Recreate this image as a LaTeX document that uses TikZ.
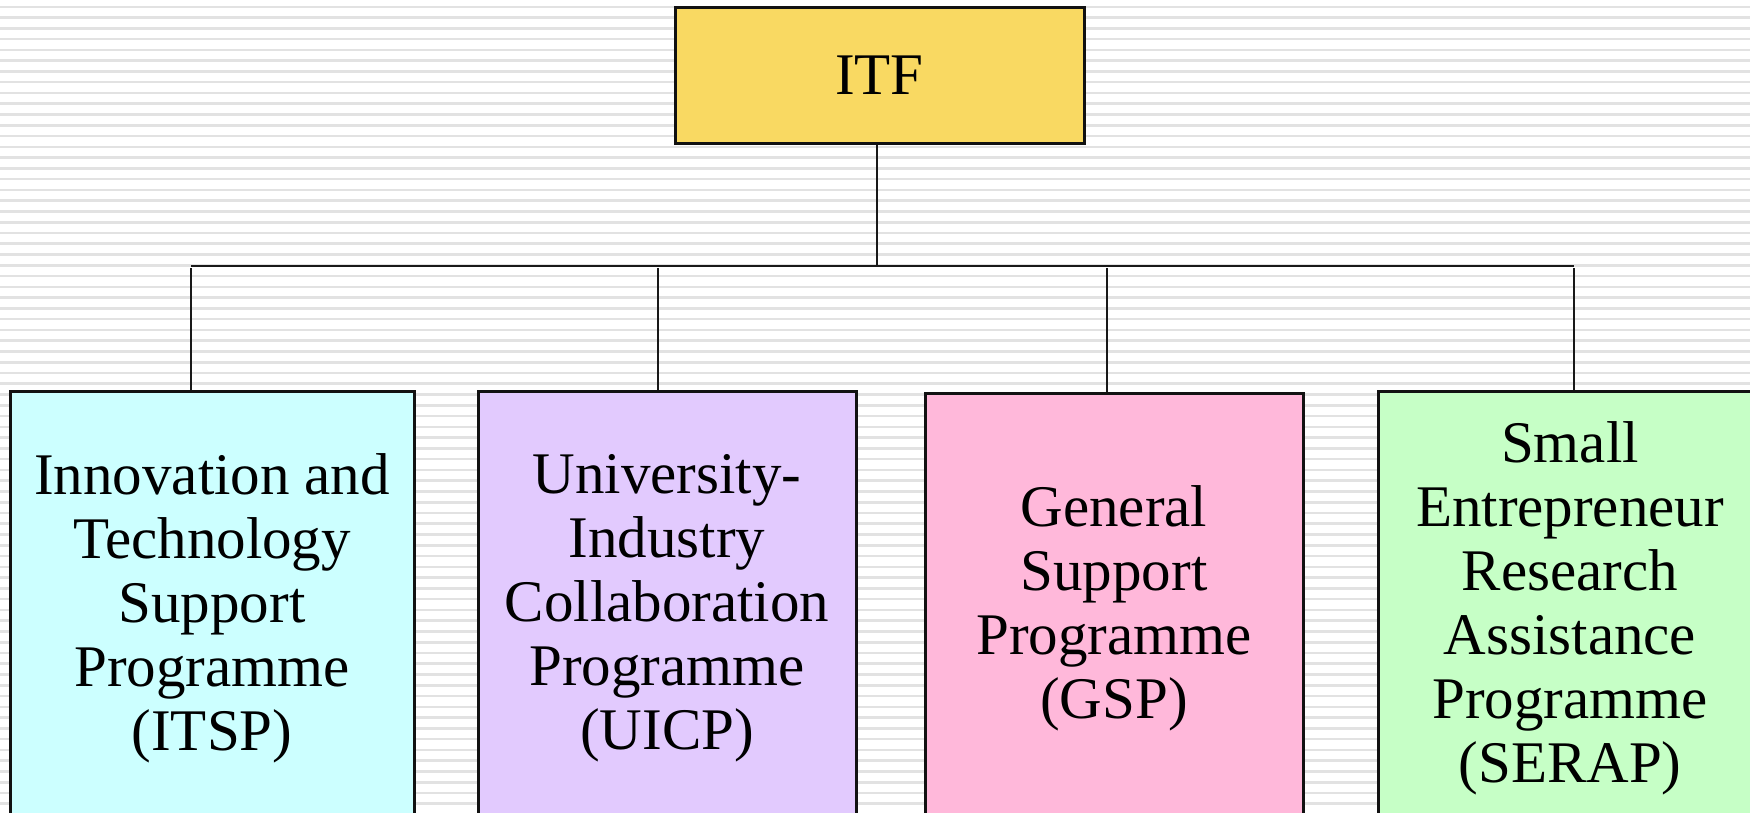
\documentclass[tikz,border=0pt]{standalone}
\usepackage{fontspec}
\setmainfont{Liberation Serif}
\begin{document}
\definecolor{itfyellow}{HTML}{F9D962}
\definecolor{progcyan}{HTML}{CCFFFF}
\definecolor{proglilac}{HTML}{E2CAFE}
\definecolor{progpink}{HTML}{FFB8DA}
\definecolor{proggreen}{HTML}{C6FFC6}
\definecolor{stripe}{HTML}{E2E2E2}
\begin{tikzpicture}[x=1pt,y=-1pt,
  boxstyle/.style={draw=black!93, line width=3pt, align=center, inner sep=0pt,
    font=\fontsize{59}{64}\selectfont},
  progbox/.style={boxstyle, minimum height=434pt},
  link/.style={draw=black!90, line width=2.2pt}]
  \useasboundingbox (0,0) rectangle (1750,812);
  \clip (0,0) rectangle (1750,812);
  % ruled background
  \fill[white] (0,0) rectangle (1750,812);
  \foreach \i in {0,...,76}
    \draw[stripe, line width=2.6pt] (0,6.8+10.77*\i) -- (1750,6.8+10.77*\i);

  % top of the chart
  \node[boxstyle, fill=itfyellow, minimum width=409pt, minimum height=136pt]
    (itf) at (879.5,75) {ITF};

  % programme boxes
  \node[progbox, fill=progcyan, minimum width=404pt] (itsp) at (212,608)
    {Innovation and\\Technology\\Support\\Programme\\(ITSP)};
  \node[progbox, fill=proglilac, minimum width=378pt] (uicp) at (667,608)
    {University-\\Industry\\Collaboration\\Programme\\(UICP)};
  \node[progbox, fill=progpink, minimum width=378pt, minimum height=430pt] (gsp) at (1114,608)
    {General\\Support\\Programme\\(GSP)};
  \node[progbox, fill=proggreen, minimum width=384pt] (serap) at (1570,608)
    {Small\\Entrepreneur\\Research\\Assistance\\Programme\\(SERAP)};

  % connectors
  \coordinate (j1) at (191,266);
  \coordinate (j2) at (658,266);
  \coordinate (j3) at (1107,266);
  \coordinate (j4) at (1574,266);
  \coordinate (stem) at ([xshift=-2.5pt]itf.south);
  \draw[link] (stem) -- (stem |- j1);
  \draw[link] (j1) -- (j4);
  \draw[link] ([yshift=-2pt]j1) -- (j1 |- itsp.north);
  \draw[link] ([yshift=-2pt]j2) -- (j2 |- uicp.north);
  \draw[link] ([yshift=-2pt]j3) -- (j3 |- gsp.north);
  \draw[link] ([yshift=-2pt]j4) -- (j4 |- serap.north);
\end{tikzpicture}
\end{document}
